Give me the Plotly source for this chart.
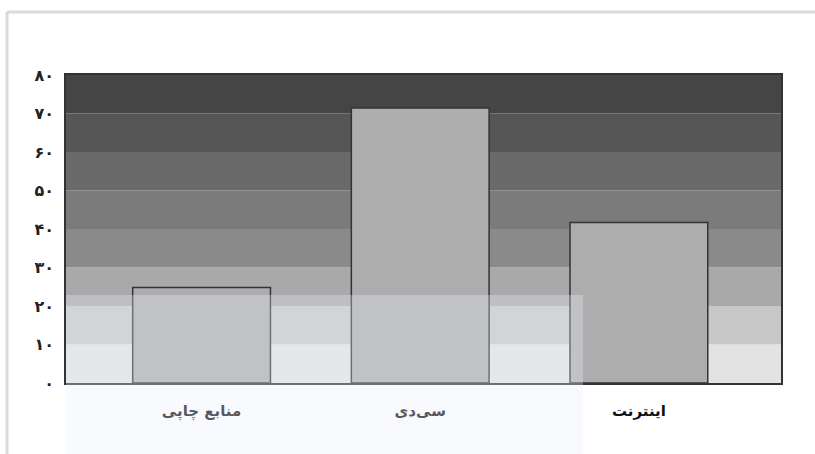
import plotly.graph_objects as go

categories = ["منابع چاپی", "سی‌دی", "اینترنت"]
values = [24.8, 71.4, 41.7]
tick_vals = [0, 10, 20, 30, 40, 50, 60, 70, 80]
tick_text = ["۰", "۱۰", "۲۰", "۳۰", "۴۰", "۵۰", "۶۰", "۷۰", "۸۰"]
band_colors = ["#e3e3e3", "#c7c7c7", "#a9a9a9", "#8a8a8a", "#7b7b7b", "#6a6a6a", "#565656", "#454545"]

W, H = 815, 454
L, R, T, B = 66, 34, 75, 71
pw, ph = W - L - R, H - T - B

def px_x(p):
    return (p - L) / pw

def px_y(p):
    return (H - B - p) / ph

fig = go.Figure()
fig.add_trace(go.Bar(
    x=categories, y=values, width=0.63,
    marker=dict(color="#adadad", line=dict(color="#333333", width=1.5)),
))

shapes = []
for i, c in enumerate(band_colors):
    shapes.append(dict(type="rect", xref="paper", yref="y", x0=0, x1=1,
                       y0=tick_vals[i], y1=tick_vals[i + 1], fillcolor=c,
                       line=dict(width=0), layer="below"))
# watermark overlay
shapes.append(dict(type="rect", xref="paper", yref="paper",
                   x0=0, x1=px_x(583), y0=px_y(454), y1=px_y(295),
                   fillcolor="rgba(232,240,248,0.32)", line=dict(width=0), layer="above"))
# page frame lines
shapes.append(dict(type="line", xref="paper", yref="paper",
                   x0=px_x(7), x1=px_x(815), y0=px_y(12), y1=px_y(12),
                   line=dict(color="#dadada", width=3), layer="above"))
shapes.append(dict(type="line", xref="paper", yref="paper",
                   x0=px_x(7), x1=px_x(7), y0=px_y(12), y1=px_y(454),
                   line=dict(color="#dadada", width=3), layer="above"))

fig.update_layout(
    width=W, height=H,
    margin=dict(l=L, r=R, t=T, b=B, pad=0),
    paper_bgcolor="white", plot_bgcolor="rgba(0,0,0,0)",
    showlegend=False, bargap=0.37,
    shapes=shapes,
    font=dict(family="DejaVu Sans", color="#222222"),
    xaxis=dict(range=[-0.62, 2.65], showgrid=False, ticks="", showline=True,
               linecolor="#333333", linewidth=1.5, mirror=True,
               tickfont=dict(size=15, color="#111111"), ticklabelstandoff=13,
               tickvals=categories, ticktext=["<b>" + c + "</b>" for c in categories]),
    yaxis=dict(range=[0, 80], showgrid=False, zeroline=False, ticks="",
               showline=True, linecolor="#333333", linewidth=1.5, mirror=True,
               tickvals=tick_vals, ticktext=["<b>" + t + "</b>" for t in tick_text],
               tickfont=dict(size=16, color="#222222"), ticklabelstandoff=7),
)

fig.write_html("out.html", config={"displayModeBar": False},
               post_script="document.body.style.margin='0';document.body.style.padding='0';")
